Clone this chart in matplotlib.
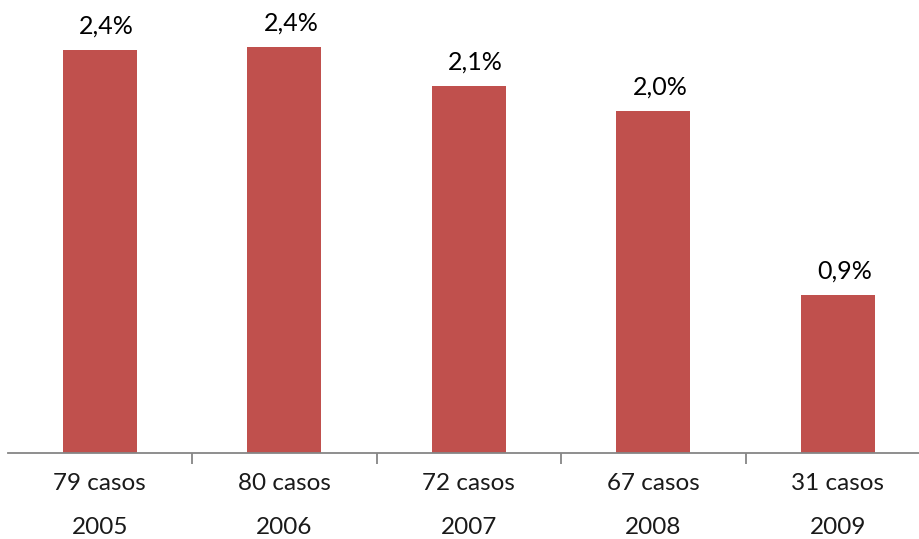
import matplotlib
matplotlib.use("Agg")
import matplotlib.pyplot as plt
from matplotlib.ticker import FixedLocator
import matplotlib.transforms as mtransforms

years = ["2005", "2006", "2007", "2008", "2009"]
cases = ["79 casos", "80 casos", "72 casos", "67 casos", "31 casos"]
values = [2.37, 2.39, 2.16, 2.01, 0.93]
labels = ["2,4%", "2,4%", "2,1%", "2,0%", "0,9%"]

plt.rcParams['font.family'] = ['Lato', 'DejaVu Sans']

W, H = 920, 539
fig = plt.figure(figsize=(W / 100, H / 100), dpi=100)
left_px, right_px = 7.5, 930.0
base_px, top_px = 453.0, 11.0
ax = fig.add_axes([left_px / W, (H - base_px) / H, (right_px - left_px) / W, (base_px - top_px) / H])

x = list(range(len(years)))
ax.bar(x, values, width=0.4, color="#C0504D", zorder=2)
ax.set_xlim(-0.5, len(years) - 0.5)
ax.set_ylim(0, 2.6)

for s in ["top", "right", "left"]:
    ax.spines[s].set_visible(False)
ax.spines["bottom"].set_color("#868686")
ax.spines["bottom"].set_linewidth(1.3)
ax.set_yticks([])

ax.set_xticks(x)
ax.set_xticklabels([""] * len(x))
ax.tick_params(axis="x", which="major", length=0)
ax.xaxis.set_minor_locator(FixedLocator([i + 0.5 for i in range(len(x) - 1)]))
ax.tick_params(axis="x", which="minor", length=8, width=1.3, color="#868686", direction="out")

fs = 17.5
trans = mtransforms.blended_transform_factory(ax.transData, ax.transAxes)
for i in x:
    ax.text(i, 0, cases[i], transform=trans + mtransforms.ScaledTranslation(0, -31 / 100, fig.dpi_scale_trans),
            ha="center", va="center", fontsize=fs, color="#1a1a1a")
    ax.text(i, 0, years[i], transform=trans + mtransforms.ScaledTranslation(0, -75 / 100, fig.dpi_scale_trans),
            ha="center", va="center", fontsize=fs, color="#1a1a1a")
    ax.annotate(labels[i], (i, values[i]), xytext=(7 * 0.72, 24 * 0.72), textcoords="offset points",
                ha="center", va="center", fontsize=fs + 0.5, color="black")

fig.savefig("out.png", dpi=100)
